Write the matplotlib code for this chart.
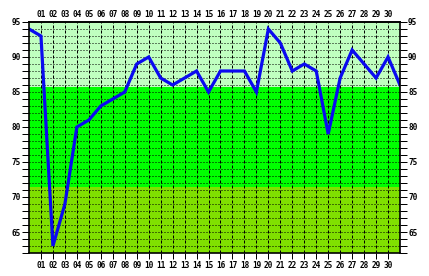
import matplotlib
matplotlib.use("Agg")
import matplotlib.pyplot as plt
import numpy as np

# data
days = list(range(0, 32))
values = [94, 93, 63, 69, 80, 81, 83, 84, 85, 89, 90, 87, 86, 87, 88, 85,
          88, 88, 88, 85, 94, 92, 88, 89, 88, 79, 87, 91, 89, 87, 90, 86]
day_labels = [f"{d:02d}" for d in range(1, 31)]
y_labels = [65, 70, 75, 80, 85, 90, 95]
bands = [(62, 71.4, '#80e000'), (71.4, 85.75, '#00ff00'), (85.75, 95, '#c0ffc0')]

W, H = 429, 276
fig = plt.figure(figsize=(W / 100, H / 100), dpi=100)
fig.patch.set_facecolor('white')
ax = fig.add_axes([29 / W, (H - 253) / H, (400 - 29) / W, (253 - 22) / H])

for lo, hi, c in bands:
    ax.axhspan(lo, hi, color=c, lw=0, zorder=0)

px = 0.72
for d in range(1, 31):
    ax.axvline(d, color='black', lw=px, ls=(0, (3, 2)), zorder=1)
for v in range(63, 95):
    ax.axhline(v, color='black', lw=px, ls=(0, (1, 2)), zorder=1)

ax.plot(days, values, color='#0a0af0', lw=2.3, zorder=3, solid_joinstyle='miter')

ax.set_xlim(0, 31)
ax.set_ylim(62, 95)

font = dict(family='DejaVu Sans Mono', weight='bold', size=5.6)

ax.set_xticks(range(1, 31))
ax.set_xticklabels(day_labels, **font)
ax.tick_params(axis='x', which='major', bottom=True, top=False, labelbottom=True,
               labeltop=False, length=4, width=px, direction='out', pad=1.6)

top = ax.secondary_xaxis('top')
top.set_xticks(range(1, 31))
top.set_xticklabels(day_labels, **font)
top.tick_params(axis='x', length=0, pad=2.0)
top.spines['top'].set_linewidth(1.2)

ax.set_yticks(range(62, 96))
ax.set_yticklabels([str(v) if v in y_labels else '' for v in range(62, 96)], **font)
ax.tick_params(axis='y', which='major', left=True, right=True, labelleft=True,
               labelright=True, length=5, width=px, direction='out', pad=0.8)

for s in ax.spines.values():
    s.set_linewidth(1.2)
    s.set_color('black')
    s.set_zorder(4)

fig.savefig('out.png', dpi=100)
